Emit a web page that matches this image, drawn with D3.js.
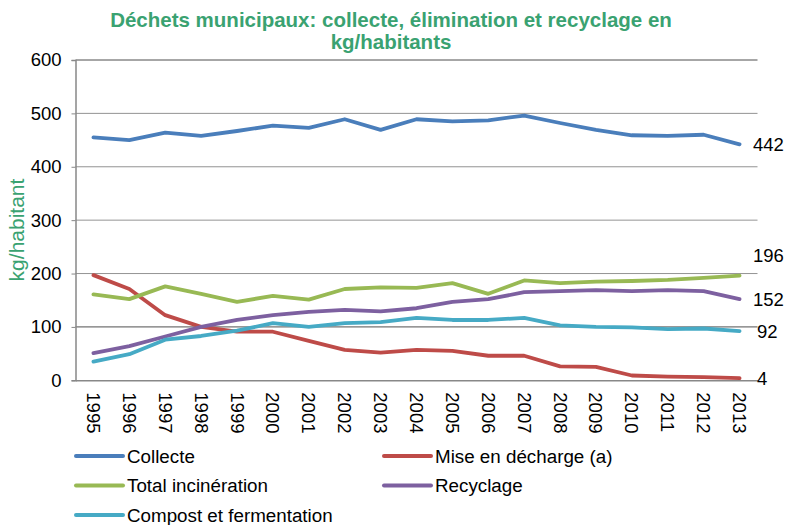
<!DOCTYPE html>
<html>
<head>
<meta charset="utf-8">
<script src="https://cdn.jsdelivr.net/npm/d3@7/dist/d3.min.js"></script>
<style>
  body { margin: 0; background: #fff; }
  svg text { font-family: "Liberation Sans", Arial, sans-serif; }
</style>
</head>
<body>
<svg id="chart"></svg>
<script>
// data
const years = ["1995","1996","1997","1998","1999","2000","2001","2002","2003","2004",
               "2005","2006","2007","2008","2009","2010","2011","2012","2013"];
const collecte    = [455,450,464,458,467,477,473,489,469,489,485,487,496,482,469,459,458,460,442];
const decharge    = [197,171,122,100,91,91,74,57,52,57,55,46,46,26,25,9,7,6,4];
const incineration= [161,152,176,162,147,158,151,171,174,173,182,162,187,182,185,186,188,192,196];
const recyclage   = [51,64,82,100,113,122,128,132,129,135,147,152,165,167,169,167,169,167,152];
const compost     = [35,49,76,83,93,107,100,107,109,117,113,113,117,103,100,99,96,97,92];
const yTicks = [0,100,200,300,400,500,600];

const series = [
  {name: "Collecte", values: collecte, color: "#4a7ebb"},
  {name: "Mise en décharge (a)", values: decharge, color: "#be4b48"},
  {name: "Total incinération", values: incineration, color: "#98b954"},
  {name: "Recyclage", values: recyclage, color: "#7d60a0"},
  {name: "Compost et fermentation", values: compost, color: "#46aac5"}
];

const config = {
  width: 787, height: 525,
  left: 75.5, right: 757.5, top: 60, bottom: 380.3
};

const svg = d3.select("#chart")
  .attr("width", config.width)
  .attr("height", config.height);

const x = d3.scaleBand().domain(years).range([config.left, config.right]);
const y = d3.scaleLinear().domain([0, 600]).range([config.bottom, config.top]);
const xc = d => x(d) + x.bandwidth() / 2;

// title
svg.append("text")
  .attr("x", 391).attr("y", 27)
  .attr("text-anchor", "middle")
  .attr("font-size", 20.5).attr("font-weight", "bold").attr("fill", "#3aa271")
  .text("Déchets municipaux: collecte, élimination et recyclage en");
svg.append("text")
  .attr("x", 391).attr("y", 49)
  .attr("text-anchor", "middle")
  .attr("font-size", 20.5).attr("font-weight", "bold").attr("fill", "#3aa271")
  .text("kg/habitants");

// gridlines
svg.append("g")
  .selectAll("line")
  .data(yTicks.filter(d => d > 0))
  .enter().append("line")
  .attr("x1", config.left).attr("x2", config.right)
  .attr("y1", d => y(d)).attr("y2", d => y(d))
  .attr("stroke", d => (d === 100 || d === 600) ? "#222" : "#777")
  .attr("stroke-width", 0.8);

// y axis
const yAxis = svg.append("g")
  .attr("transform", `translate(${config.left},0)`)
  .call(d3.axisLeft(y).tickValues(yTicks).tickSize(4).tickPadding(10));
yAxis.select(".domain").attr("stroke", "#888").attr("stroke-width", 1.5);
yAxis.selectAll(".tick line").attr("stroke", "#888");
yAxis.selectAll("text").attr("font-size", 18.5).attr("fill", "#000")
  .attr("font-family", "Liberation Sans, Arial, sans-serif");

// x axis
const xAxis = svg.append("g")
  .attr("transform", `translate(0,${config.bottom})`)
  .call(d3.axisBottom(x).tickSize(0).tickSizeOuter(0));
xAxis.select(".domain").attr("stroke", "#888").attr("stroke-width", 1.5);
xAxis.selectAll("text")
  .attr("font-size", 18.5).attr("fill", "#000")
  .attr("font-family", "Liberation Sans, Arial, sans-serif")
  .attr("transform", "rotate(90)")
  .attr("text-anchor", "start")
  .attr("x", 12).attr("y", 0).attr("dy", "0.35em");

// y axis label
svg.append("text")
  .attr("transform", "translate(24,230) rotate(-90)")
  .attr("text-anchor", "middle")
  .attr("font-size", 21).attr("fill", "#3aa271")
  .text("kg/habitant");

// lines
const line = d3.line()
  .x((d, i) => xc(years[i]))
  .y(d => y(d));

svg.append("g")
  .selectAll("path")
  .data(series)
  .enter().append("path")
  .attr("d", s => line(s.values))
  .attr("fill", "none")
  .attr("stroke", d => d.color)
  .attr("stroke-width", 3.8)
  .attr("stroke-linejoin", "round")
  .attr("stroke-linecap", "round");

// end labels
svg.append("g")
  .selectAll("text")
  .data(series)
  .enter().append("text")
  .attr("x", d => d.values[d.values.length - 1] < 100 ? 757 : 753)
  .attr("y", d => y(d.values[d.values.length - 1]) + (d.name === "Total incinération" ? -20 : 0))
  .attr("dy", "0.35em")
  .attr("font-size", 18.5)
  .attr("fill", "#000")
  .text(d => d.values[d.values.length - 1]);

// legend
const legend = svg.append("g")
  .selectAll("g")
  .data(series)
  .enter().append("g")
  .attr("transform", (d, i) => `translate(${i % 2 === 0 ? 76 : 384},${456 + Math.floor(i / 2) * 29.5})`);
legend.append("line")
  .attr("x1", 0).attr("x2", 47)
  .attr("stroke", d => d.color)
  .attr("stroke-width", 4)
  .attr("stroke-linecap", "round");
legend.append("text")
  .attr("x", 51).attr("dy", "0.35em")
  .attr("font-size", 18.8)
  .attr("fill", "#000")
  .text(d => d.name);
</script>
</body>
</html>
